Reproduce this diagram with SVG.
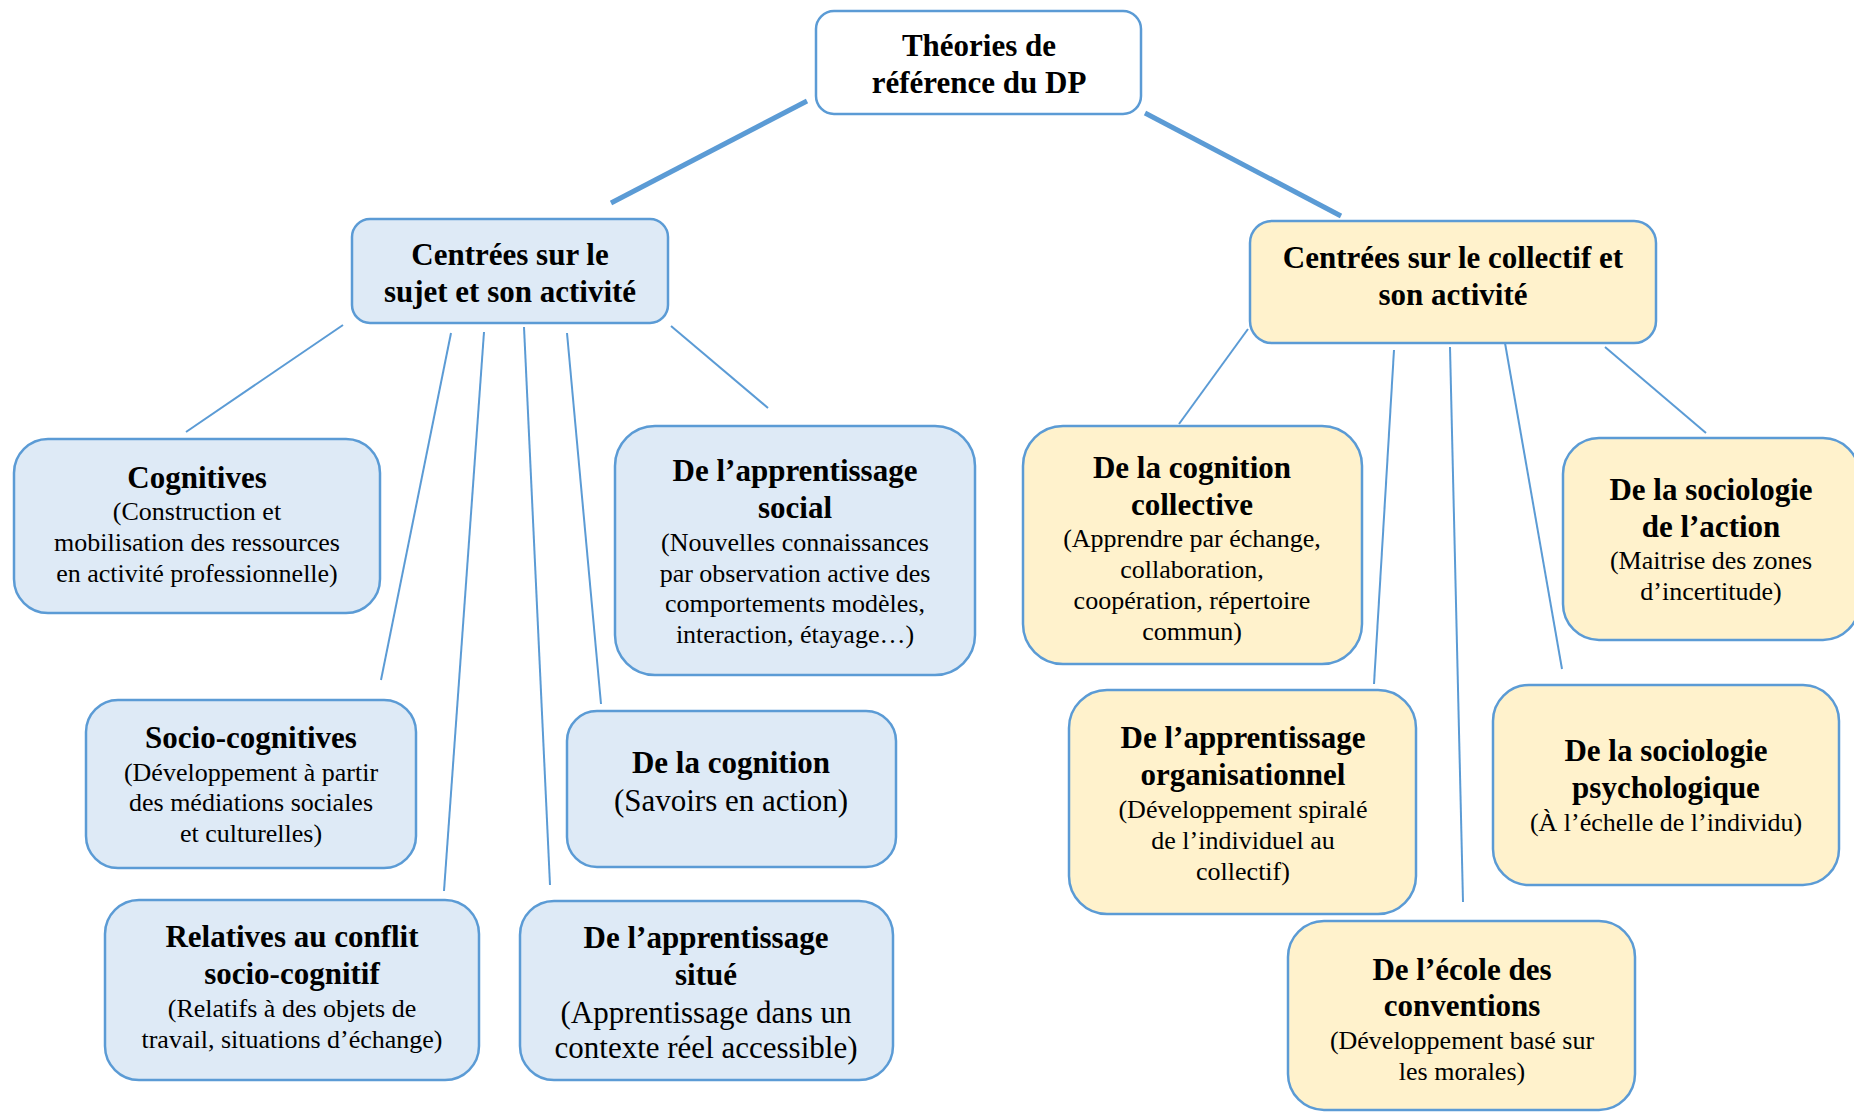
<svg xmlns="http://www.w3.org/2000/svg" width="1854" height="1112" viewBox="0 0 1854 1112">
<style>
.n{stroke:#5b9bd5;stroke-width:2.5}
.b{fill:#deeaf6}
.y{fill:#fff2cc}
.w{fill:#ffffff}
.c{stroke:#5b9bd5;fill:none;stroke-linecap:butt}
.thick{stroke-width:5}
.thin{stroke-width:2}
text{font-family:"Liberation Serif","Times New Roman",serif;fill:#000;text-anchor:middle}
.t{font-weight:bold;font-size:31px}
.s{font-size:26px}
.l{font-size:31px}
</style>
<rect width="1854" height="1112" fill="#ffffff"/>
<g id="connectors">
<line class="c thick" x1="807" y1="101" x2="611" y2="203"/>
<line class="c thick" x1="1145" y1="113" x2="1341" y2="216"/>
<line class="c thin" x1="343" y1="325" x2="186" y2="432"/>
<line class="c thin" x1="451" y1="333" x2="381" y2="680"/>
<line class="c thin" x1="484" y1="332" x2="444" y2="891"/>
<line class="c thin" x1="524" y1="327" x2="550" y2="885"/>
<line class="c thin" x1="567" y1="333" x2="601" y2="704"/>
<line class="c thin" x1="671" y1="326" x2="768" y2="408"/>
<line class="c thin" x1="1248" y1="329" x2="1179" y2="424"/>
<line class="c thin" x1="1394" y1="350" x2="1374" y2="684"/>
<line class="c thin" x1="1450" y1="347" x2="1463" y2="902"/>
<line class="c thin" x1="1505" y1="343" x2="1562" y2="669"/>
<line class="c thin" x1="1605" y1="347" x2="1706" y2="433"/>
</g>
<g id="root">
<rect class="n w" x="816" y="11" width="325" height="103" rx="18"/>
<text class="t" x="979" y="56">Théories de</text>
<text class="t" x="979" y="93">référence du DP</text>
</g>
<g id="sujet">
<rect class="n b" x="352" y="219" width="316" height="104" rx="18"/>
<text class="t" x="510" y="265">Centrées sur le</text>
<text class="t" x="510" y="302">sujet et son activité</text>
</g>
<g id="collectif">
<rect class="n y" x="1250" y="221" width="406" height="122" rx="22"/>
<text class="t" x="1453" y="268">Centrées sur le collectif et</text>
<text class="t" x="1453" y="305">son activité</text>
</g>
<g id="cognitives">
<rect class="n b" x="14" y="439" width="366" height="174" rx="34"/>
<text class="t" x="197" y="488">Cognitives</text>
<text class="s" x="197" y="520">(Construction et</text>
<text class="s" x="197" y="551">mobilisation des ressources</text>
<text class="s" x="197" y="582">en activité professionnelle)</text>
</g>
<g id="socio-cognitives">
<rect class="n b" x="86" y="700" width="330" height="168" rx="32"/>
<text class="t" x="251" y="748">Socio-cognitives</text>
<text class="s" x="251" y="781">(Développement à partir</text>
<text class="s" x="251" y="811">des médiations sociales</text>
<text class="s" x="251" y="842">et culturelles)</text>
</g>
<g id="conflit">
<rect class="n b" x="105" y="900" width="374" height="180" rx="34"/>
<text class="t" x="292" y="947">Relatives au conflit</text>
<text class="t" x="292" y="984">socio-cognitif</text>
<text class="s" x="292" y="1017">(Relatifs à des objets de</text>
<text class="s" x="292" y="1048">travail, situations d’échange)</text>
</g>
<g id="social">
<rect class="n b" x="615" y="426" width="360" height="249" rx="40"/>
<text class="t" x="795" y="481">De l’apprentissage</text>
<text class="t" x="795" y="518">social</text>
<text class="s" x="795" y="551">(Nouvelles connaissances</text>
<text class="s" x="795" y="582">par observation active des</text>
<text class="s" x="795" y="612">comportements modèles,</text>
<text class="s" x="795" y="643">interaction, étayage…)</text>
</g>
<g id="cognition">
<rect class="n b" x="567" y="711" width="329" height="156" rx="30"/>
<text class="t" x="731" y="773">De la cognition</text>
<text class="l" x="731" y="811">(Savoirs en action)</text>
</g>
<g id="situe">
<rect class="n b" x="520" y="901" width="373" height="179" rx="34"/>
<text class="t" x="706" y="948">De l’apprentissage</text>
<text class="t" x="706" y="985">situé</text>
<text class="l" x="706" y="1023">(Apprentissage dans un</text>
<text class="l" x="706" y="1058">contexte réel accessible)</text>
</g>
<g id="cognition-collective">
<rect class="n y" x="1023" y="426" width="339" height="238" rx="40"/>
<text class="t" x="1192" y="478">De la cognition</text>
<text class="t" x="1192" y="515">collective</text>
<text class="s" x="1192" y="547">(Apprendre par échange,</text>
<text class="s" x="1192" y="578">collaboration,</text>
<text class="s" x="1192" y="609">coopération, répertoire</text>
<text class="s" x="1192" y="640">commun)</text>
</g>
<g id="sociologie-action">
<rect class="n y" x="1563" y="438" width="296" height="202" rx="36"/>
<text class="t" x="1711" y="500">De la sociologie</text>
<text class="t" x="1711" y="537">de l’action</text>
<text class="s" x="1711" y="569">(Maitrise des zones</text>
<text class="s" x="1711" y="600">d’incertitude)</text>
</g>
<g id="organisationnel">
<rect class="n y" x="1069" y="690" width="347" height="224" rx="38"/>
<text class="t" x="1243" y="748">De l’apprentissage</text>
<text class="t" x="1243" y="785">organisationnel</text>
<text class="s" x="1243" y="818">(Développement spiralé</text>
<text class="s" x="1243" y="849">de l’individuel au</text>
<text class="s" x="1243" y="880">collectif)</text>
</g>
<g id="sociologie-psychologique">
<rect class="n y" x="1493" y="685" width="346" height="200" rx="36"/>
<text class="t" x="1666" y="761">De la sociologie</text>
<text class="t" x="1666" y="798">psychologique</text>
<text class="s" x="1666" y="831">(À l’échelle de l’individu)</text>
</g>
<g id="conventions">
<rect class="n y" x="1288" y="921" width="347" height="189" rx="36"/>
<text class="t" x="1462" y="980">De l’école des</text>
<text class="t" x="1462" y="1016">conventions</text>
<text class="s" x="1462" y="1049">(Développement basé sur</text>
<text class="s" x="1462" y="1080">les morales)</text>
</g>
</svg>
